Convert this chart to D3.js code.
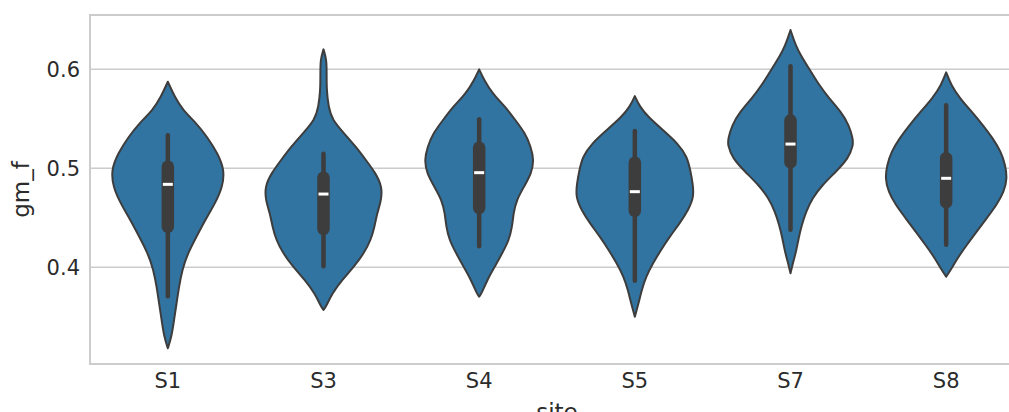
<!DOCTYPE html>
<html>
<head>
<meta charset="utf-8">
<script src="https://cdn.jsdelivr.net/npm/d3@7"></script>
<style>
  html, body { margin: 0; padding: 0; background: #ffffff; }
  svg { display: block; }
  text { font-family: "DejaVu Sans", sans-serif; fill: #2b2b2b; }
</style>
</head>
<body>
<svg id="chart" width="1009" height="412"></svg>
<script>
// ---------------- data ----------------
const sites = ["S1", "S3", "S4", "S5", "S7", "S8"];
const yTicks = [0.4, 0.5, 0.6];

// violin outlines: [value, relative density] (density 1 = widest violin)
const densityS1 = [[0.5875,0],[0.5723,0.11],[0.5589,0.24],[0.5455,0.46],[0.5319,0.63],[0.5152,0.8],[0.4983,0.91],[0.4814,0.88],[0.4646,0.76],[0.4478,0.6],[0.4309,0.46],[0.4141,0.32],[0.3973,0.23],[0.3804,0.18],[0.3636,0.14],[0.3468,0.1],[0.3299,0.06],[0.3182,0]];
const densityS3 = [[0.6202,0],[0.6094,0.05],[0.596,0.05],[0.5791,0.05],[0.5622,0.08],[0.5488,0.14],[0.5354,0.33],[0.5218,0.52],[0.5084,0.68],[0.4949,0.84],[0.4814,0.94],[0.468,0.93],[0.4545,0.86],[0.441,0.82],[0.4276,0.76],[0.4141,0.65],[0.4006,0.49],[0.3872,0.3],[0.3737,0.14],[0.3602,0.04],[0.3569,0]];
const densityS4 = [[0.6,0],[0.5892,0.08],[0.5758,0.21],[0.5622,0.42],[0.5488,0.58],[0.5354,0.74],[0.5218,0.83],[0.5084,0.88],[0.4949,0.84],[0.4814,0.72],[0.468,0.6],[0.4545,0.55],[0.441,0.53],[0.4276,0.48],[0.4141,0.37],[0.4006,0.25],[0.3872,0.13],[0.3737,0.04],[0.3703,0]];
const densityS5 = [[0.573,0],[0.5622,0.08],[0.5521,0.21],[0.5387,0.45],[0.5253,0.69],[0.5117,0.84],[0.4983,0.89],[0.4848,0.93],[0.4713,0.95],[0.4579,0.86],[0.4444,0.72],[0.4309,0.56],[0.4175,0.42],[0.404,0.29],[0.3905,0.18],[0.3771,0.11],[0.3636,0.06],[0.3501,0]];
const densityS7 = [[0.6397,0],[0.6245,0.08],[0.6111,0.19],[0.5976,0.33],[0.5841,0.46],[0.5707,0.62],[0.5572,0.81],[0.5437,0.94],[0.5303,1.0],[0.5235,1.01],[0.5101,0.93],[0.4966,0.73],[0.4831,0.51],[0.4697,0.35],[0.4562,0.25],[0.4427,0.18],[0.4293,0.13],[0.4158,0.09],[0.4023,0.03],[0.3939,0]];
const densityS8 = [[0.597,0],[0.5841,0.08],[0.5707,0.22],[0.5572,0.41],[0.5437,0.59],[0.5303,0.75],[0.5168,0.88],[0.5033,0.95],[0.4899,0.98],[0.4764,0.93],[0.4629,0.81],[0.4495,0.65],[0.436,0.49],[0.4225,0.33],[0.4091,0.18],[0.399,0.09],[0.3905,0]];
const densities = [densityS1, densityS3, densityS4, densityS5, densityS7, densityS8];

// inner box statistics per site
const whiskerLow  = [0.3707, 0.4010, 0.4212, 0.3864, 0.4380, 0.4228];
const q1          = [0.4410, 0.4386, 0.4598, 0.4571, 0.5060, 0.4656];
const median      = [0.4838, 0.4740, 0.4956, 0.4764, 0.5245, 0.4899];
const q3          = [0.5017, 0.4906, 0.5209, 0.5057, 0.5485, 0.5102];
const whiskerHigh = [0.5334, 0.5148, 0.5495, 0.5377, 0.6031, 0.5637];

// ---------------- layout ----------------
const mLeft = 90, mTop = 15, mBottom = 364, mRight = 1024;
const fillColor = "#3274a1";
const lineColor = "#3d3d3d";
const gridColor = "#cccccc";

const svg = d3.select("#chart");

const x = d3.scaleBand().domain(sites).range([mLeft, mRight]).padding(0);
const y = d3.scaleLinear().domain([0.3023, 0.6549]).range([mBottom, mTop]);
const w = d3.scaleLinear().domain([0, 1]).range([0, x.bandwidth() * 0.4]);

// grid
svg.append("g").selectAll("line").data(yTicks).join("line")
  .attr("x1", mLeft).attr("x2", mRight)
  .attr("y1", d => y(d)).attr("y2", d => y(d))
  .attr("stroke", gridColor).attr("stroke-width", 1.5);

// frame
svg.append("rect")
  .attr("x", mLeft).attr("y", mTop)
  .attr("width", mRight - mLeft).attr("height", mBottom - mTop)
  .attr("fill", "none").attr("stroke", gridColor).attr("stroke-width", 2);

// violins
const area = d3.area()
  .curve(d3.curveBasis)
  .y(d => y(d[0]));

const vg = svg.append("g");
sites.forEach((s, i) => {
  const cx = x(s) + x.bandwidth() / 2;
  vg.append("path")
    .datum(densities[i])
    .attr("d", area.x0(d => cx - w(d[1])).x1(d => cx + w(d[1])))
    .attr("fill", fillColor)
    .attr("stroke", lineColor)
    .attr("stroke-width", 2)
    .attr("stroke-linejoin", "round");
  // whisker
  vg.append("line")
    .attr("x1", cx).attr("x2", cx)
    .attr("y1", y(whiskerLow[i])).attr("y2", y(whiskerHigh[i]))
    .attr("stroke", lineColor).attr("stroke-width", 4.5)
    .attr("stroke-linecap", "round");
  // box
  vg.append("line")
    .attr("x1", cx).attr("x2", cx)
    .attr("y1", y(q1[i])).attr("y2", y(q3[i]))
    .attr("stroke", lineColor).attr("stroke-width", 12.5)
    .attr("stroke-linecap", "round");
  // median
  vg.append("line")
    .attr("x1", cx - 5).attr("x2", cx + 5)
    .attr("y1", y(median[i])).attr("y2", y(median[i]))
    .attr("stroke", "#ffffff").attr("stroke-width", 3);
});

// axes
const yAxis = svg.append("g")
  .attr("transform", `translate(${mLeft},0)`)
  .call(d3.axisLeft(y).tickValues(yTicks).tickSize(0).tickPadding(10).tickFormat(d3.format(".1f")));
yAxis.select(".domain").remove();
yAxis.selectAll("text").attr("font-size", 21).attr("fill", "#2b2b2b")
  .style("font-family", "'DejaVu Sans', sans-serif");

const xAxis = svg.append("g")
  .attr("transform", `translate(0,${mBottom})`)
  .call(d3.axisBottom(x).tickSize(0).tickPadding(9));
xAxis.select(".domain").remove();
xAxis.selectAll("text").attr("font-size", 21).attr("fill", "#2b2b2b")
  .style("font-family", "'DejaVu Sans', sans-serif");

// axis labels
svg.append("text")
  .attr("transform", `translate(29,${(mTop + mBottom) / 2}) rotate(-90)`)
  .attr("text-anchor", "middle")
  .attr("font-size", 23)
  .text("gm_f");

svg.append("text")
  .attr("x", (mLeft + mRight) / 2)
  .attr("y", 420)
  .attr("text-anchor", "middle")
  .attr("font-size", 23)
  .text("site");
</script>
</body>
</html>
